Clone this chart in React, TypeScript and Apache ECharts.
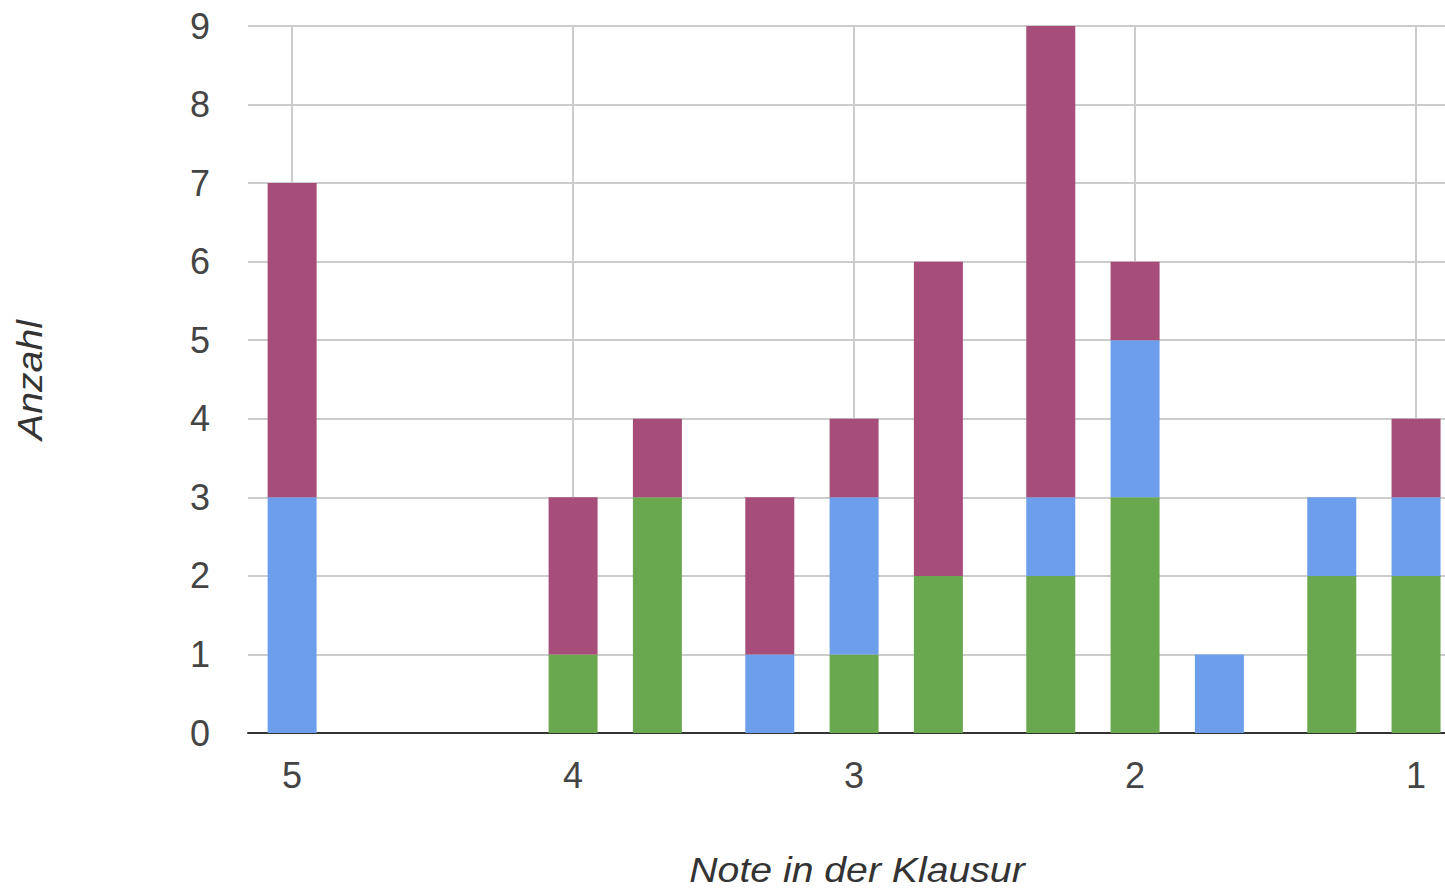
import React, { useEffect, useRef } from "react";
import * as echarts from "echarts";

const grades = [5, 4, 3.7, 3.3, 3, 2.7, 2.3, 2, 1.7, 1.3, 1];
const greenValues = [0, 1, 3, 0, 1, 2, 2, 3, 0, 2, 2];
const blueValues = [3, 0, 0, 1, 2, 0, 1, 2, 1, 1, 1];
const purpleValues = [4, 2, 1, 2, 1, 4, 6, 1, 0, 0, 1];
const xTickValues = [5, 4, 3, 2, 1];
const yMax = 9;
const xTitle = "Note in der Klausur";
const yTitle = "Anzahl";

const FONT = "'Liberation Sans', Arial, sans-serif";

export default function App() {
  const ref = useRef<HTMLDivElement>(null);
  useEffect(() => {
    document.body.style.margin = "0";
    const chart = echarts.init(ref.current!, null, { renderer: "svg" });
    const mk = (name: string, values: number[], color: string) => ({
      name,
      type: "bar",
      stack: "total",
      barWidth: 49,
      // column 0 = count (y), column 1 = grade (x)
      data: grades.map((g, i) => [values[i], g]),
      encode: { x: 1, y: 0 },
      itemStyle: { color },
    });
    chart.setOption({
      animation: false,
      backgroundColor: "#ffffff",
      grid: { left: 248, right: 0, top: 26, bottom: 158, containLabel: false },
      xAxis: {
        type: "value",
        inverse: true,
        min: 0.897,
        max: 5.157,
        axisLine: { show: true, onZero: false, lineStyle: { color: "#333333", width: 2 } },
        axisTick: { show: false, customValues: xTickValues },
        splitLine: { show: true, lineStyle: { color: "#cccccc", width: 2 } },
        axisLabel: {
          customValues: xTickValues,
          color: "#444444",
          fontSize: 36,
          fontFamily: FONT,
          margin: 24,
        },
      },
      yAxis: {
        type: "value",
        min: 0,
        max: yMax,
        interval: 1,
        axisLine: { show: false },
        axisTick: { show: false },
        splitLine: { show: true, lineStyle: { color: "#cccccc", width: 2 } },
        axisLabel: {
          color: "#444444",
          fontSize: 36,
          fontFamily: FONT,
          margin: 38,
        },
      },
      graphic: [
        {
          type: "text",
          x: 857,
          y: 870,
          scaleX: 1.12,
          style: {
            text: xTitle,
            fontSize: 35,
            fontStyle: "italic",
            fontFamily: FONT,
            fill: "#333333",
            align: "center",
            verticalAlign: "middle",
          },
        },
        {
          type: "text",
          x: 30,
          y: 380,
          rotation: Math.PI / 2,
          scaleX: 1.12,
          style: {
            text: yTitle,
            fontSize: 35,
            fontStyle: "italic",
            fontFamily: FONT,
            fill: "#333333",
            align: "center",
            verticalAlign: "middle",
          },
        },
      ],
      series: [
        mk("Gruppe 1", greenValues, "#6aa84f"),
        mk("Gruppe 2", blueValues, "#6d9eeb"),
        mk("Gruppe 3", purpleValues, "#a64d79"),
      ],
    });
    return () => chart.dispose();
  }, []);
  return (
    <div
      ref={ref}
      style={{ position: "fixed", left: 0, top: 0, width: 1445, height: 891 }}
    />
  );
}
